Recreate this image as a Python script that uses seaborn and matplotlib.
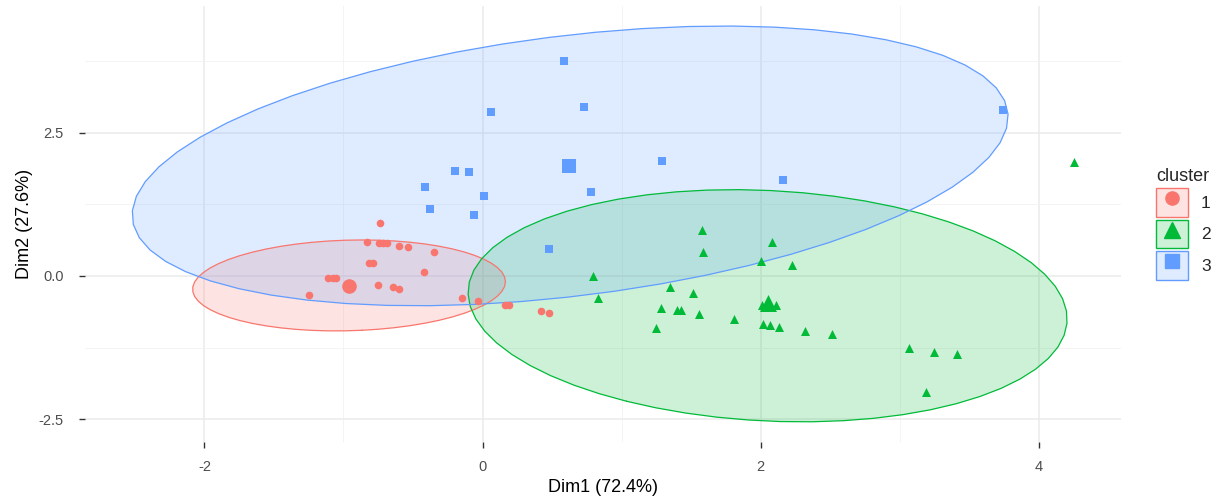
import numpy as np
import pandas as pd
import matplotlib
matplotlib.use("Agg")
import matplotlib.pyplot as plt
import seaborn as sns
from matplotlib.patches import Patch
from matplotlib.lines import Line2D

# cluster members (Dim1, Dim2)
c1_x = [-0.734, -0.83, -0.748, -0.717, -0.688, -0.602, -0.537, -0.35, -0.813, -0.789,
        -0.422, -1.113, -1.077, -1.053, -0.755, -0.645, -0.602, -1.245, -0.146, -0.034,
        0.165, 0.19, 0.422, 0.477]
c1_y = [0.92, 0.60, 0.58, 0.57, 0.57, 0.52, 0.50, 0.425, 0.22, 0.22,
        0.075, -0.03, -0.03, -0.03, -0.15, -0.20, -0.23, -0.33, -0.38, -0.43,
        -0.51, -0.51, -0.61, -0.64]
c2_x = [1.58, 2.08, 1.585, 2.0, 2.225, 0.796, 1.345, 1.51, 0.83, 1.28, 1.40, 1.43, 1.56,
        2.01, 2.11, 1.81, 1.25, 2.02, 2.07, 2.135, 2.32, 2.51, 4.25, 3.07, 3.25, 3.41, 3.19]
c2_y = [0.80, 0.60, 0.42, 0.27, 0.19, -0.005, -0.20, -0.29, -0.39, -0.565, -0.595, -0.595, -0.66,
        -0.50, -0.50, -0.76, -0.915, -0.84, -0.86, -0.886, -0.955, -1.01, 1.99, -1.25, -1.32, -1.37, -2.02]
c3_x = [0.585, 0.729, 0.062, 1.29, -0.199, -0.098, -0.417, 0.009, 0.782, -0.379, -0.058, 2.16, 0.477, 3.74]
c3_y = [3.76, 2.95, 2.86, 2.005, 1.84, 1.81, 1.56, 1.40, 1.46, 1.18, 1.06, 1.67, 0.48, 2.90]

clusters = ["1", "2", "3"]
centre_x = [-0.962, 2.05, 0.621]
centre_y = [-0.175, -0.48, 1.93]

# ellipse shape per cluster (centre + covariance-like matrix, data units)
ell_cx = [-0.96, 2.05, 0.63]
ell_cy = [-0.165, -0.52, 1.925]
ell_sxx = [1.265, 4.64, 9.92]
ell_sxy = [0.075, -0.50, 2.70]
ell_syy = [0.632, 4.12, 5.98]

colors = ["#F8766D", "#00BA38", "#619CFF"]
markers = ["o", "^", "s"]
pt_size = [30, 42, 30]
cent_size = [110, 150, 110]

df = pd.DataFrame({
    "Dim1": c1_x + c2_x + c3_x,
    "Dim2": c1_y + c2_y + c3_y,
    "cluster": ["1"] * len(c1_x) + ["2"] * len(c2_x) + ["3"] * len(c3_x),
})
cent = pd.DataFrame({"Dim1": centre_x, "Dim2": centre_y, "cluster": clusters})

sns.set_theme(style="whitegrid")
plt.rcParams["font.family"] = ["Liberation Sans", "DejaVu Sans"]

fig = plt.figure(figsize=(12.29, 5.01), dpi=100)
ax = fig.add_axes([0.069, 0.118, 0.843, 0.870])

# ellipses
t = np.linspace(0, 2 * np.pi, 60)
for i in range(3):
    S = np.array([[ell_sxx[i], ell_sxy[i]], [ell_sxy[i], ell_syy[i]]])
    vals, vecs = np.linalg.eigh(S)
    circ = np.vstack([np.cos(t), np.sin(t)])
    pts = vecs @ (np.sqrt(vals)[:, None] * circ)
    ex = ell_cx[i] + pts[0]
    ey = ell_cy[i] + pts[1]
    ax.fill(ex, ey, color=colors[i], alpha=0.2, lw=0, zorder=2)
    ax.plot(ex, ey, color=colors[i], lw=0.9, zorder=3)

for i, c in enumerate(clusters):
    sns.scatterplot(data=df[df["cluster"] == c], x="Dim1", y="Dim2", color=colors[i],
                    marker=markers[i], s=pt_size[i], linewidth=0, ax=ax, legend=False, zorder=4)
    sns.scatterplot(data=cent[cent["cluster"] == c], x="Dim1", y="Dim2", color=colors[i],
                    marker=markers[i], s=cent_size[i], linewidth=0, ax=ax, legend=False, zorder=5)

ax.set_xlim(-2.86, 4.59)
ax.set_ylim(-2.90, 4.72)
ax.set_xticks([-2, 0, 2, 4])
ax.set_xticklabels(["-2", "0", "2", "4"])
ax.set_yticks([-2.5, 0, 2.5])
ax.set_yticklabels(["-2.5", "0.0", "2.5"])
ax.set_xticks([-1, 1, 3], minor=True)
ax.set_yticks([-1.25, 1.25, 3.75], minor=True)
ax.grid(which="major", color="#EBEBEB", lw=1.1)
ax.grid(which="minor", color="#F2F2F2", lw=0.6)
ax.set_axisbelow(True)
for sp in ax.spines.values():
    sp.set_visible(False)
ax.tick_params(which="major", bottom=True, left=True, length=4, width=1, color="#333333",
               direction="out", labelsize=10.5, labelcolor="#4D4D4D")
ax.tick_params(axis="y", pad=11)
ax.tick_params(axis="x", pad=9)
ax.tick_params(which="minor", length=0)
ax.set_xlabel("Dim1 (72.4%)", fontsize=13, color="black", labelpad=4)
ax.set_ylabel("Dim2 (27.6%)", fontsize=13, color="black", labelpad=4)

handles = []
for c, m in zip(colors, markers):
    box = Patch(facecolor=matplotlib.colors.to_rgba(c, 0.2), edgecolor=c, lw=1)
    dot = Line2D([], [], marker=m, color=c, linestyle="none", markersize=11 if m == "^" else 9.5)
    handles.append((box, dot))
leg = ax.legend(handles, clusters, title="cluster", loc="center left",
                bbox_to_anchor=(1.022, 0.5), frameon=False, fontsize=12.5,
                title_fontsize=13, handlelength=1.85, handleheight=2.15,
                labelspacing=0.17, handletextpad=0.75, borderpad=0.2)
leg._legend_box.align = "left"

fig.savefig("out.png", dpi=100)
